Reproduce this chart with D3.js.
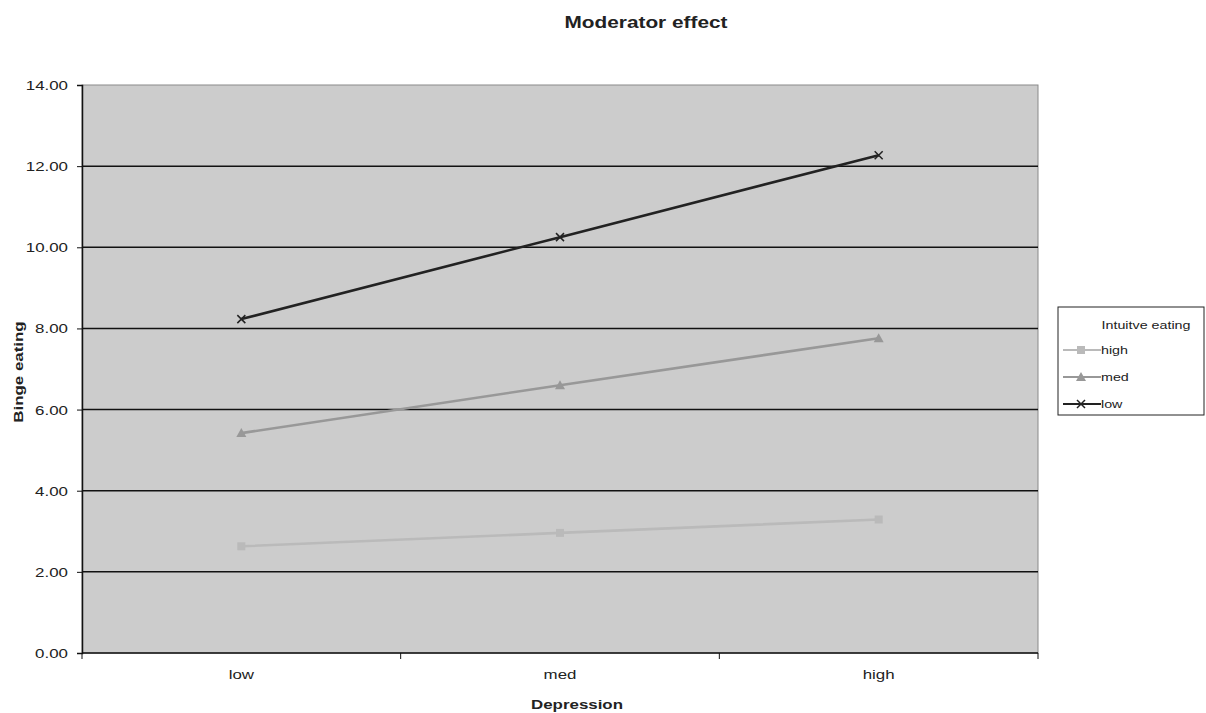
<!DOCTYPE html>
<html>
<head>
<meta charset="utf-8">
<script src="https://cdn.jsdelivr.net/npm/d3@7"></script>
<style>
  body { margin: 0; background: #fff; }
  text { font-family: "Liberation Sans", Arial, sans-serif; fill: #222; }
</style>
</head>
<body>
<div id="chart"></div>
<script>
// Chart data
const categories = ['low', 'med', 'high'];
const seriesNames = ['high', 'med', 'low'];
const highValues = [2.63, 2.96, 3.29];
const medValues = [5.42, 6.60, 7.76];
const lowValues = [8.23, 10.25, 12.27];
const yTicks = [0, 2, 4, 6, 8, 10, 12, 14];

const width = 1206, height = 713;
const margin = { top: 85, right: 168, bottom: 60, left: 82 };
const plotW = width - margin.left - margin.right;
const plotH = height - margin.top - margin.bottom;
// the reference picture is stretched sideways, so text is too
const sx = 1.3;

const series = [
  { name: seriesNames[0], values: highValues, color: '#bababa', marker: 'square' },
  { name: seriesNames[1], values: medValues, color: '#989898', marker: 'triangle' },
  { name: seriesNames[2], values: lowValues, color: '#222222', marker: 'cross' }
];

const svg = d3.select('#chart').append('svg')
  .attr('width', width)
  .attr('height', height);

const g = svg.append('g')
  .attr('transform', `translate(${margin.left},${margin.top})`);

const x = d3.scaleBand().domain(categories).range([0, plotW]);
const y = d3.scaleLinear().domain([0, 14]).range([plotH, 0]);

function label(sel, px, py, str, opts) {
  return sel.append('text')
    .attr('transform', `translate(${px},${py}) scale(${sx},1)`)
    .attr('text-anchor', opts.anchor || 'middle')
    .style('font-size', opts.size + 'px')
    .style('font-weight', opts.bold ? 'bold' : 'normal')
    .attr('fill', opts.color || '#222')
    .text(str);
}

// Plot background
g.append('rect')
  .attr('width', plotW)
  .attr('height', plotH)
  .attr('fill', '#cccccc')
  .attr('stroke', '#8a8a8a')
  .attr('stroke-width', 1);

// Gridlines
g.selectAll('.grid')
  .data(yTicks.filter(d => d > 0 && d < 14))
  .enter().append('line')
  .attr('class', 'grid')
  .attr('x1', 0).attr('x2', plotW)
  .attr('y1', d => y(d)).attr('y2', d => y(d))
  .attr('stroke', '#111')
  .attr('stroke-width', 1.5);

// Y axis
const yAxis = g.append('g')
  .call(d3.axisLeft(y).tickValues(yTicks).tickFormat('').tickSize(5));
yAxis.select('.domain').attr('stroke', '#111').attr('stroke-width', 1.5);
yAxis.selectAll('.tick line').attr('stroke', '#111');
yTicks.forEach(t => {
  label(g, -14, y(t) + 5, d3.format('.2f')(t), { anchor: 'end', size: 13, color: '#333' });
});

// X axis with ticks on category boundaries
const xAxis = g.append('g').attr('transform', `translate(0,${plotH})`);
xAxis.append('line')
  .attr('x1', 0).attr('x2', plotW)
  .attr('stroke', '#111').attr('stroke-width', 1.5);
xAxis.selectAll('.xtick')
  .data(d3.range(categories.length + 1))
  .enter().append('line')
  .attr('x1', i => i * x.bandwidth()).attr('x2', i => i * x.bandwidth())
  .attr('y1', 0).attr('y2', 6)
  .attr('stroke', '#111');
categories.forEach(c => {
  label(xAxis, x(c) + x.bandwidth() / 2, 26, c, { size: 13, color: '#333' });
});

// Lines
const line = d3.line()
  .x((d, i) => x(categories[i]) + x.bandwidth() / 2)
  .y(d => y(d));

series.forEach(s => {
  g.append('path')
    .datum(s.values)
    .attr('fill', 'none')
    .attr('stroke', s.color)
    .attr('stroke-width', 2.6)
    .attr('d', line);
});

function drawMarker(sel, type, color) {
  if (type === 'square') {
    sel.append('rect').attr('x', -4).attr('y', -4).attr('width', 8).attr('height', 8).attr('fill', color);
  } else if (type === 'triangle') {
    sel.append('path').attr('d', 'M0,-5L5,4L-5,4Z').attr('fill', color);
  } else {
    sel.append('path').attr('d', 'M-4,-4L4,4M-4,4L4,-4').attr('stroke', color).attr('stroke-width', 1.5);
  }
}

series.forEach(s => {
  s.values.forEach((v, i) => {
    const m = g.append('g')
      .attr('transform', `translate(${x(categories[i]) + x.bandwidth() / 2},${y(v)})`);
    drawMarker(m, s.marker, s.color);
  });
});

// Title and axis labels
label(svg, 646, 28, 'Moderator effect', { size: 16, bold: true });
label(svg, 577, 709, 'Depression', { size: 13, bold: true });

svg.append('text')
  .attr('transform', `translate(23,${margin.top + plotH / 2 + 3}) rotate(-90) scale(${sx},1)`)
  .attr('text-anchor', 'middle')
  .style('font-size', '13px').style('font-weight', 'bold')
  .text('Binge eating');

// Legend
const legend = svg.append('g').attr('transform', 'translate(1058,307)');
legend.append('rect')
  .attr('width', 146).attr('height', 108)
  .attr('fill', '#fff').attr('stroke', '#222').attr('stroke-width', 1);
label(legend, 88, 22, 'Intuitve eating', { size: 11, color: '#444' });

series.forEach((s, i) => {
  const item = legend.append('g').attr('transform', `translate(0,${43 + i * 27})`);
  item.append('line')
    .attr('x1', 5).attr('x2', 43)
    .attr('stroke', s.color).attr('stroke-width', 2);
  const m = item.append('g').attr('transform', 'translate(23,0)');
  drawMarker(m, s.marker, s.color);
  label(item, 43, 4, s.name, { anchor: 'start', size: 11, color: '#555' });
});
</script>
</body>
</html>
